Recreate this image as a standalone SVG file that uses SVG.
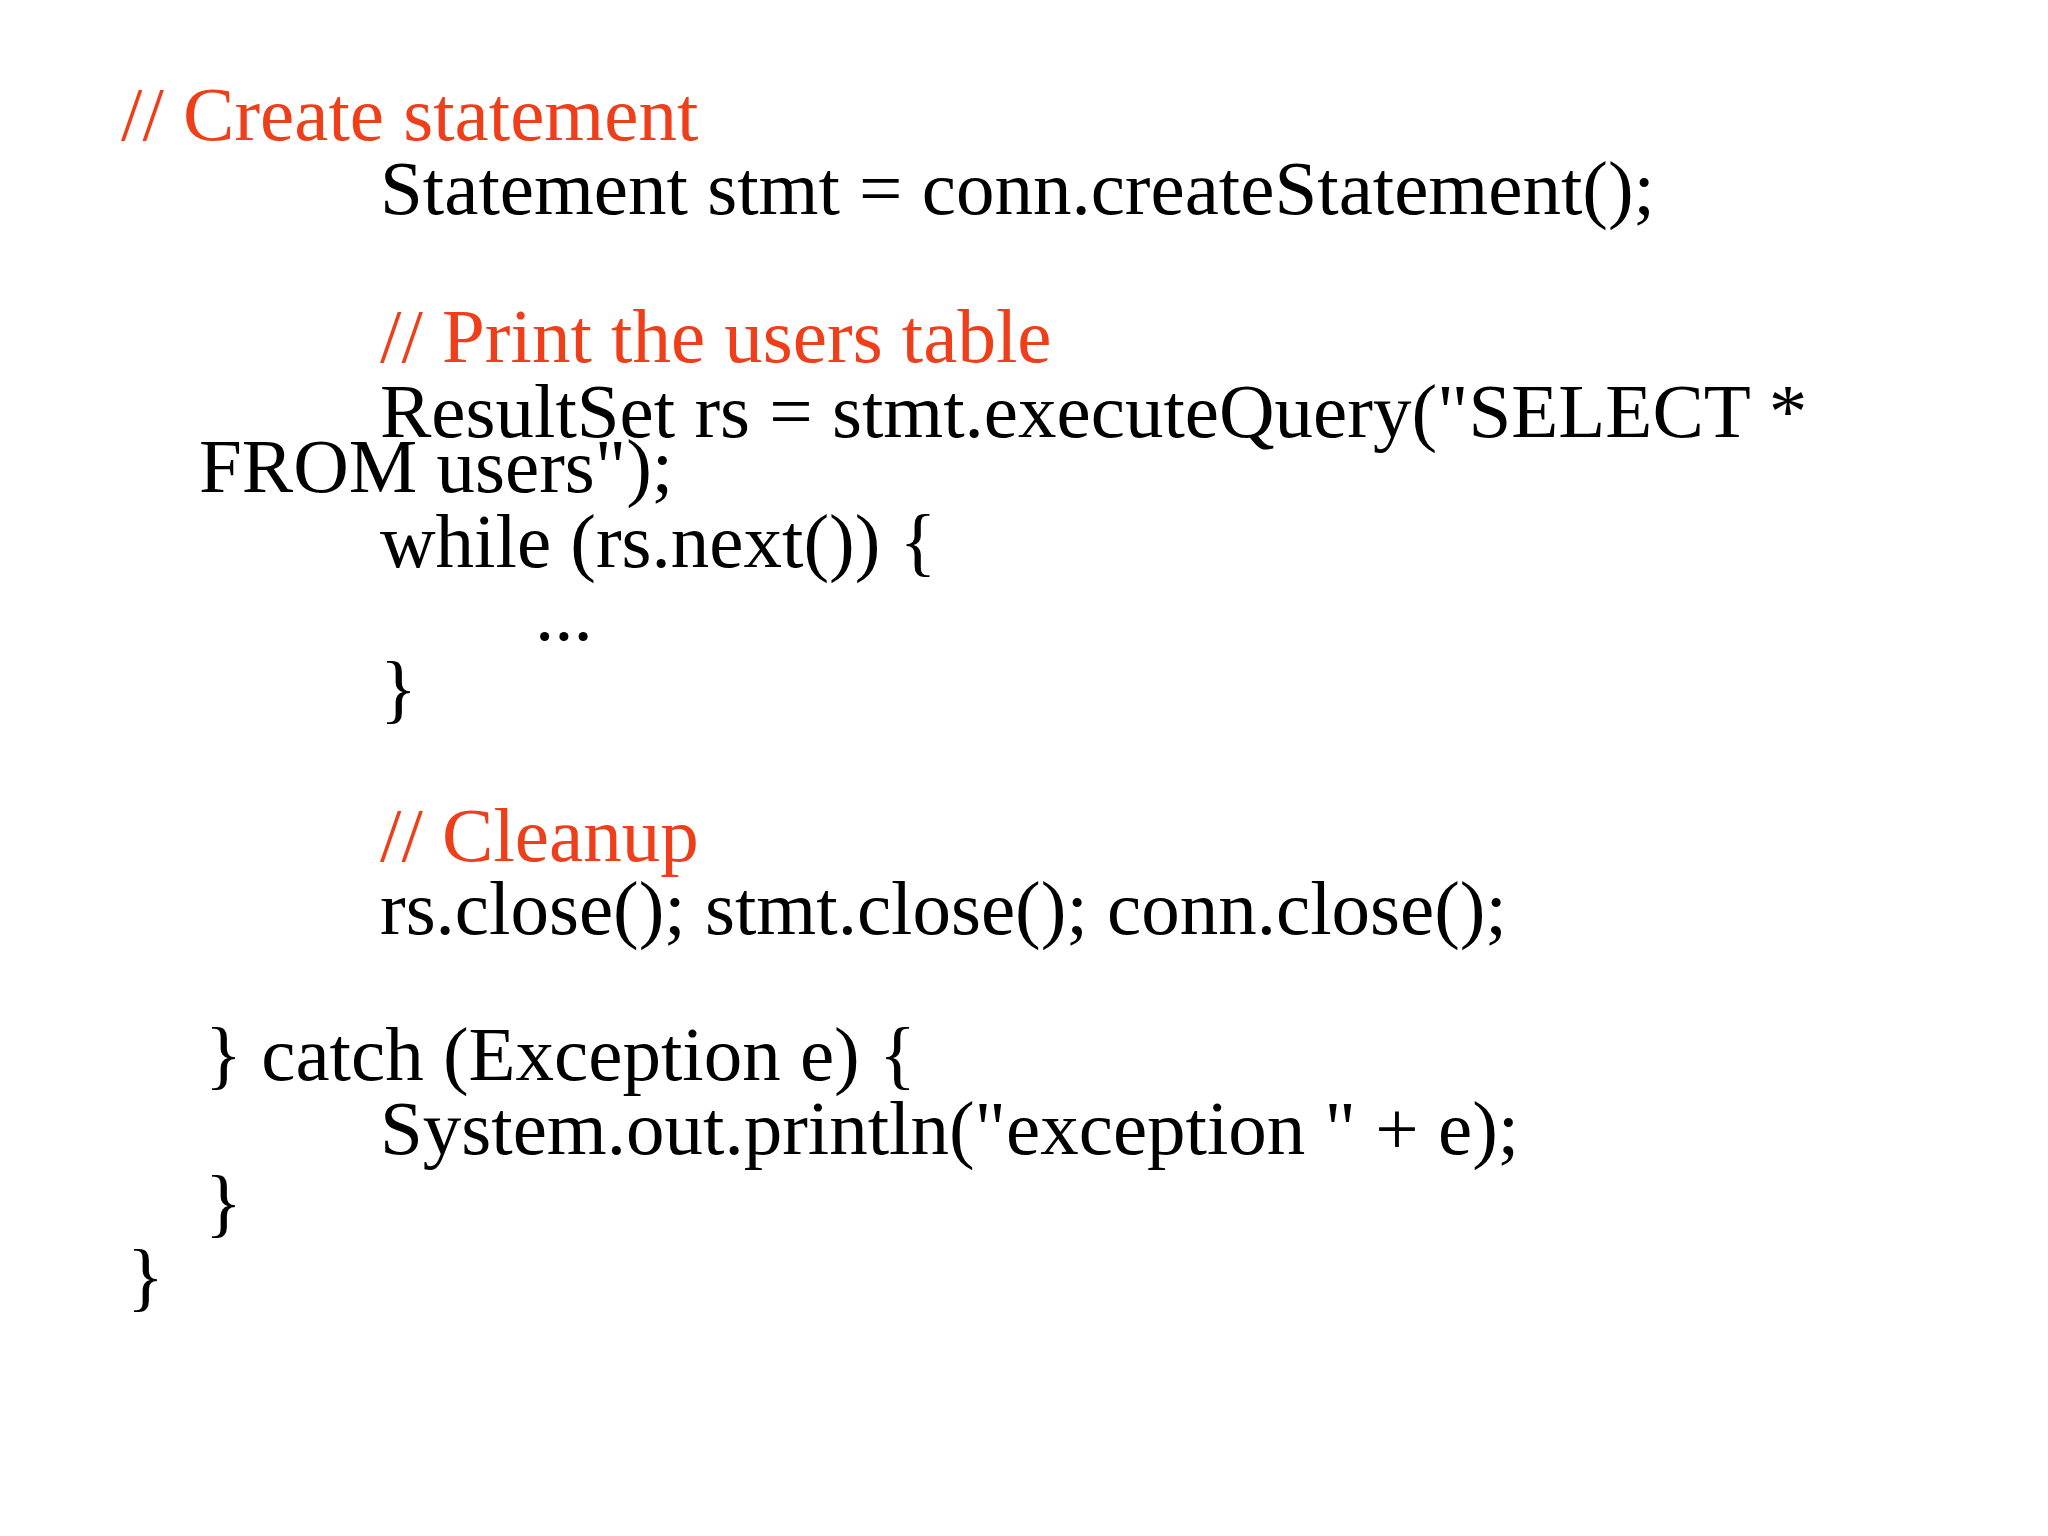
<svg xmlns="http://www.w3.org/2000/svg" width="2048" height="1536" viewBox="0 0 2048 1536">
<style>
text{font-family:"Liberation Serif","Times New Roman",serif;font-size:77px;fill:#000}
.c{fill:#ee3e1a}
</style>
<rect width="2048" height="1536" fill="#fff"/>
<g id="code">
<text class="c" x="121" y="140">// Create statement</text>
<text x="380" y="214">Statement stmt = conn.createStatement();</text>
<text class="c" x="380" y="362">// Print the users table</text>
<text x="380" y="437">ResultSet rs = stmt.executeQuery("SELECT *</text>
<text x="199" y="492">FROM users");</text>
<text x="380" y="567">while (rs.next()) {</text>
<text x="535" y="640">...</text>
<text x="380" y="714">}</text>
<text class="c" x="380" y="861">// Cleanup</text>
<text x="380" y="934">rs.close(); stmt.close(); conn.close();</text>
<text x="205" y="1080">} catch (Exception e) {</text>
<text x="380" y="1154">System.out.println("exception " + e);</text>
<text x="205" y="1228">}</text>
<text x="127" y="1302">}</text>
</g>
</svg>
